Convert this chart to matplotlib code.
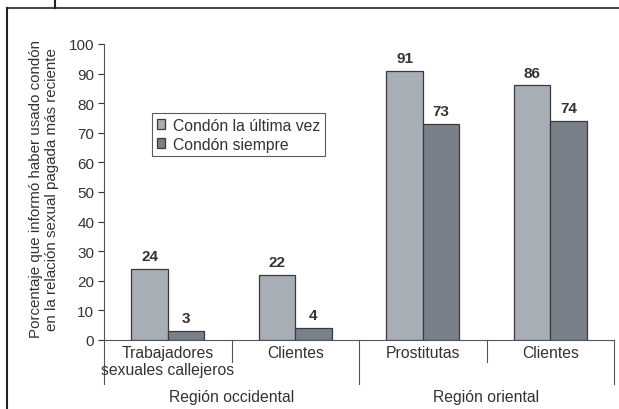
import matplotlib
matplotlib.use("Agg")
import matplotlib.pyplot as plt
from matplotlib.lines import Line2D
import numpy as np

categories = ["Trabajadores\nsexuales callejeros", "Clientes", "Prostitutas", "Clientes"]
regions = ["Región occidental", "Región oriental"]
series_names = ["Condón la última vez", "Condón siempre"]
ultima_vez = [24, 22, 91, 86]
siempre = [3, 4, 73, 74]
yticks = [0, 10, 20, 30, 40, 50, 60, 70, 80, 90, 100]

W, H = 619, 410
fig = plt.figure(figsize=(W/100, H/100), dpi=100)
plt.rcParams['font.family'] = ['Liberation Sans', 'DejaVu Sans']
FS = 11.3
TXT = '#333333'

ax = fig.add_axes([104/W, 1-341/H, 510/W, (341-45)/H])
x = np.arange(len(categories))
bw = 0.286
light = '#a8aeb6'
dark = '#7a8089'
edge = '#3a3a3a'
b1 = ax.bar(x - bw/2, ultima_vez, bw, color=light, edgecolor=edge, linewidth=0.9, label=series_names[0])
b2 = ax.bar(x + bw/2, siempre, bw, color=dark, edgecolor=edge, linewidth=0.9, label=series_names[1])
for bars, vals in ((b1, ultima_vez), (b2, siempre)):
    for r, v in zip(bars, vals):
        ax.text(r.get_x() + r.get_width()/2, v + 2.0, str(v), ha='center', va='bottom',
                fontsize=11, fontweight='bold', color=TXT)

ax.set_xlim(-0.5, len(categories) - 0.5)
ax.set_ylim(0, 100)
ax.set_yticks(yticks)
ax.tick_params(axis='y', labelsize=11, length=4, width=0.8, colors=TXT, pad=3)
ax.set_xticks([])
for s in ('top', 'right'):
    ax.spines[s].set_visible(False)
for s in ('left', 'bottom'):
    ax.spines[s].set_color('#555555')
    ax.spines[s].set_linewidth(0.8)

trans = ax.get_xaxis_transform()
long_bottom = -(385 - 341) / 296
short_bottom = -(363 - 341) / 296
for xs, yb in ((-0.5, long_bottom), (0.5, short_bottom), (1.5, long_bottom), (2.5, short_bottom), (3.5, long_bottom)):
    ax.plot([xs, xs], [0, yb], transform=trans, color='#555555', lw=0.8, clip_on=False)

for i, c in enumerate(categories):
    ax.text(i, -(346 - 341) / 296, c, transform=trans, ha='center', va='top',
            fontsize=FS, color=TXT, linespacing=1.2)
for j, r in enumerate(regions):
    ax.text(0.5 + 2*j, -(398 - 341) / 296, r, transform=trans, ha='center', va='center',
            fontsize=FS, color=TXT)

ax.set_ylabel("Porcentaje que informó haber usado condón\nen la relación sexual pagada más reciente",
              fontsize=10.9, color=TXT, linespacing=1.2)
ax.yaxis.set_label_coords(-(104 - 59) / 510, (341 - 189.5) / 296)

leg = ax.legend(loc='upper left', bbox_to_anchor=((152 - 104) / 510, (341 - 114) / 296),
                frameon=True, fancybox=False, fontsize=FS, handlelength=0.55, handleheight=0.55,
                handletextpad=0.5, borderpad=0.3, labelspacing=0.25, borderaxespad=0)
leg.get_frame().set_edgecolor('#333333')
leg.get_frame().set_linewidth(0.8)
for t in leg.get_texts():
    t.set_color(TXT)

# figure frame
fig.add_artist(Line2D([7/W, 618/W], [1 - 8.5/H, 1 - 8.5/H], color='#4a4a4a', lw=1.5))
fig.add_artist(Line2D([7/W, 7/W], [1 - 8.5/H, 0], color='#222222', lw=1.5))
fig.add_artist(Line2D([55/W, 55/W], [1, 1 - 8.5/H], color='#222222', lw=1.5))

fig.savefig("out.png", dpi=100)
